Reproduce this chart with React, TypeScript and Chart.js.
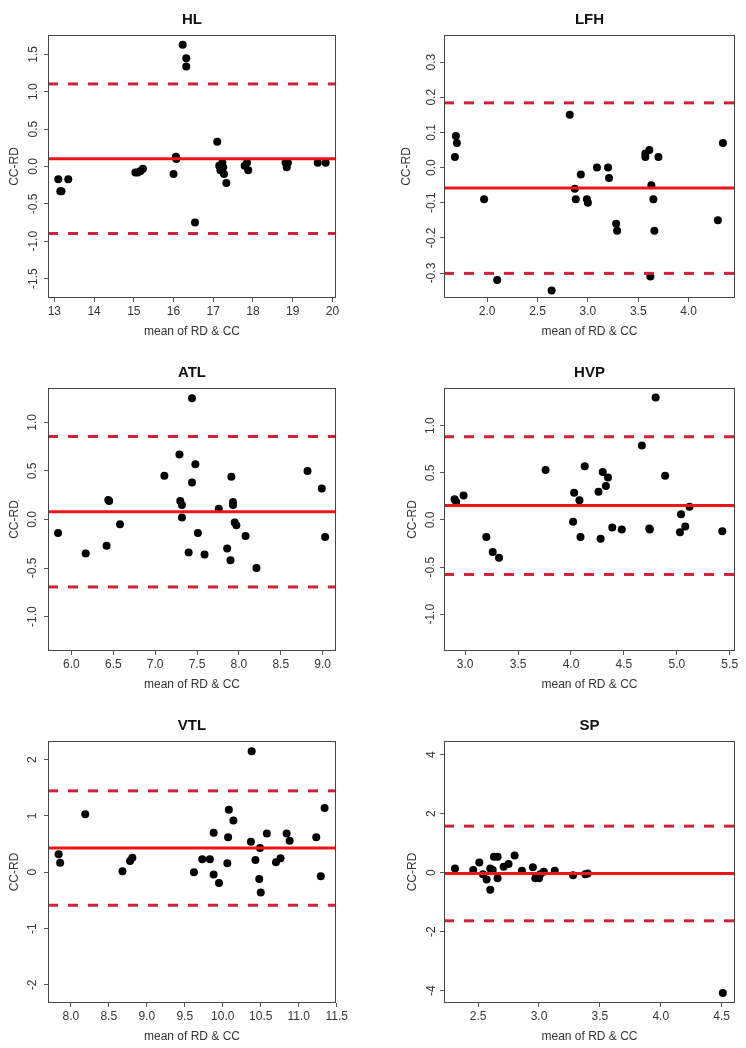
import React, { useEffect, useRef } from 'react';
import { Chart, registerables } from 'chart.js';
Chart.register(...registerables);

// ---------- data ----------
const panelTitles = ['HL', 'LFH', 'ATL', 'HVP', 'VTL', 'SP'];
const axisXTitle = 'mean of RD & CC';
const axisYTitle = 'CC-RD';

const hlX = [13.1, 13.15, 13.18, 13.35, 15.04, 15.1, 15.17, 15.23, 16.0, 16.06, 16.07, 16.23, 16.32, 16.32, 16.54, 17.1, 17.15, 17.18, 17.23, 17.25, 17.27, 17.33, 17.79, 17.85, 17.88, 18.82, 18.85, 18.88, 19.63, 19.83];
const hlY = [-0.17, -0.33, -0.33, -0.17, -0.08, -0.08, -0.06, -0.03, -0.1, 0.13, 0.1, 1.63, 1.45, 1.34, -0.75, 0.33, 0.01, -0.05, 0.05, -0.01, -0.1, -0.22, 0.01, 0.05, -0.05, 0.05, -0.01, 0.05, 0.05, 0.05];

const lfhX = [1.68, 1.69, 1.7, 1.97, 2.1, 2.64, 2.82, 2.87, 2.88, 2.93, 2.99, 3.0, 3.09, 3.2, 3.21, 3.28, 3.29, 3.57, 3.57, 3.61, 3.63, 3.62, 3.65, 3.66, 3.7, 4.29, 4.34];
const lfhY = [0.03, 0.09, 0.07, -0.09, -0.32, -0.35, 0.15, -0.06, -0.09, -0.02, -0.09, -0.1, 0.0, 0.0, -0.03, -0.16, -0.18, 0.04, 0.03, 0.05, -0.05, -0.31, -0.09, -0.18, 0.03, -0.15, 0.07];

const atlX = [5.84, 6.17, 6.42, 6.44, 6.45, 6.58, 7.11, 7.29, 7.3, 7.32, 7.32, 7.4, 7.44, 7.44, 7.48, 7.51, 7.59, 7.76, 7.86, 7.9, 7.91, 7.93, 7.93, 7.95, 7.97, 8.08, 8.21, 8.82, 8.99, 9.03];
const atlY = [-0.14, -0.35, -0.27, 0.2, 0.19, -0.05, 0.45, 0.67, 0.19, 0.15, 0.02, -0.34, 0.38, 1.25, 0.57, -0.14, -0.36, 0.11, -0.3, -0.42, 0.44, 0.18, 0.15, -0.03, -0.06, -0.17, -0.5, 0.5, 0.32, -0.18];

const hvpX = [2.9, 2.915, 2.985, 3.2, 3.26, 3.32, 3.76, 4.02, 4.03, 4.08, 4.09, 4.13, 4.26, 4.28, 4.3, 4.33, 4.35, 4.39, 4.48, 4.74, 4.745, 4.67, 4.8, 4.89, 5.03, 5.04, 5.08, 5.12, 5.43];
const hvpY = [0.22, 0.19, 0.26, -0.18, -0.34, -0.4, 0.53, -0.02, 0.29, 0.21, -0.18, 0.57, 0.3, -0.2, 0.51, 0.36, 0.45, -0.08, -0.1, -0.09, -0.1, 0.79, 1.3, 0.47, -0.13, 0.06, -0.07, 0.14, -0.12];

const vtlX = [7.84, 7.86, 8.19, 8.68, 8.78, 8.81, 9.62, 9.73, 9.83, 9.88, 9.88, 9.95, 10.06, 10.07, 10.08, 10.14, 10.37, 10.38, 10.43, 10.49, 10.48, 10.5, 10.58, 10.7, 10.76, 10.84, 10.88, 11.23, 11.29, 11.34];
const vtlY = [0.32, 0.17, 1.03, 0.02, 0.2, 0.26, 0.0, 0.23, 0.23, 0.7, -0.04, -0.19, 0.16, 0.62, 1.11, 0.92, 0.54, 2.15, 0.22, 0.43, -0.12, -0.36, 0.69, 0.18, 0.25, 0.69, 0.56, 0.62, -0.07, 1.14];

const spX = [2.31, 2.46, 2.51, 2.54, 2.57, 2.6, 2.6, 2.62, 2.63, 2.66, 2.66, 2.71, 2.75, 2.8, 2.86, 2.95, 2.97, 3.0, 3.01, 3.04, 3.13, 3.28, 3.38, 3.4, 4.51];
const spY = [0.14, 0.09, 0.34, -0.06, -0.23, 0.14, -0.58, 0.09, 0.54, 0.54, -0.19, 0.2, 0.29, 0.58, 0.06, 0.18, -0.19, -0.19, -0.06, 0.03, 0.06, -0.09, -0.06, -0.03, -4.08];

const seriesX = [hlX, lfhX, atlX, hvpX, vtlX, spX];
const seriesY = [hlY, lfhY, atlY, hvpY, vtlY, spY];

const meanDiff = [0.103, -0.058, 0.08, 0.153, 0.43, -0.03];
const upperLoA = [1.105, 0.184, 0.855, 0.883, 1.445, 1.575];
const lowerLoA = [-0.897, -0.301, -0.695, -0.578, -0.585, -1.635];

const xTickValues = [
  [13, 14, 15, 16, 17, 18, 19, 20],
  [2.0, 2.5, 3.0, 3.5, 4.0],
  [6.0, 6.5, 7.0, 7.5, 8.0, 8.5, 9.0],
  [3.0, 3.5, 4.0, 4.5, 5.0, 5.5],
  [8.0, 8.5, 9.0, 9.5, 10.0, 10.5, 11.0, 11.5],
  [2.5, 3.0, 3.5, 4.0, 4.5],
];
const yTickValues = [
  [-1.5, -1.0, -0.5, 0.0, 0.5, 1.0, 1.5],
  [-0.3, -0.2, -0.1, 0.0, 0.1, 0.2, 0.3],
  [-1.0, -0.5, 0.0, 0.5, 1.0],
  [-1.0, -0.5, 0.0, 0.5, 1.0],
  [-2, -1, 0, 1, 2],
  [-4, -2, 0, 2, 4],
];
const xTickDecimals = [0, 1, 1, 1, 1, 1];
const yTickDecimals = [1, 1, 1, 1, 0, 0];
const xLimits = [[12.84, 20.09], [1.572, 4.46], [5.72, 9.16], [2.8, 5.55], [7.7, 11.49], [2.22, 4.61]];
const yLimits = [[-1.76, 1.76], [-0.371, 0.377], [-1.355, 1.355], [-1.39, 1.4], [-2.32, 2.33], [-4.42, 4.46]];

// ---------- layout / style ----------
const COL_BOX = [[48, 336], [444, 735]];
const ROW_BOX = [[35, 298], [388, 651], [741, 1003]];
const LEFT_M = 48;
const TOP_M = 35;
const BOTTOM_M = 42;
const RIGHT_M = [30, 11];
const Y_TICK_PAD = [0, -1.6, 0.6, -1, 5.6, 3.3];
const Y_TITLE_PAD = [7.8, 3.1, 7.8, 9.1, 7.8, 9.1];
const FONT = "'Liberation Sans', Arial, Helvetica, sans-serif";

const boxPlugin = {
  id: 'rbox',
  afterDraw(chart: any) {
    const { ctx, chartArea: a } = chart;
    ctx.save();
    ctx.strokeStyle = '#444';
    ctx.lineWidth = 1;
    ctx.strokeRect(a.left + 0.5, a.top + 0.5, a.right - a.left - 1, a.bottom - a.top - 1);
    ctx.restore();
  },
};

function Panel({ idx }: { idx: number }) {
  const ref = useRef<HTMLCanvasElement | null>(null);
  const col = idx % 2;
  const row = Math.floor(idx / 2);
  const [bl, br] = COL_BOX[col];
  const [bt, bb] = ROW_BOX[row];
  const left = bl - LEFT_M;
  const top = bt - TOP_M;
  const width = br - bl + LEFT_M + RIGHT_M[col];
  const height = bb - bt + TOP_M + BOTTOM_M;

  useEffect(() => {
    if (!ref.current) return;
    const [xmin, xmax] = xLimits[idx];
    const [ymin, ymax] = yLimits[idx];
    const pts = seriesX[idx].map((x, i) => ({ x, y: seriesY[idx][i] }));
    const hline = (v: number) => [{ x: xmin, y: v }, { x: xmax, y: v }];
    const xs = xTickValues[idx];
    const ys = yTickValues[idx];
    const chart = new Chart(ref.current, {
      type: 'scatter',
      data: {
        datasets: [
          {
            data: hline(meanDiff[idx]),
            showLine: true,
            borderColor: '#f01414',
            borderWidth: 3,
            pointRadius: 0,
          },
          {
            data: hline(upperLoA[idx]),
            showLine: true,
            borderColor: '#d41f35',
            borderWidth: 3,
            borderDash: [10, 10],
            pointRadius: 0,
          },
          {
            data: hline(lowerLoA[idx]),
            showLine: true,
            borderColor: '#d41f35',
            borderWidth: 3,
            borderDash: [10, 10],
            pointRadius: 0,
          },
          {
            data: pts,
            pointRadius: 4,
            backgroundColor: '#000',
            borderWidth: 0,
          },
        ],
      } as any,
      options: {
        animation: false,
        responsive: false,
        events: [],
        layout: { padding: { left: 0, top: 0, bottom: 0, right: RIGHT_M[col] } },
        plugins: {
          legend: { display: false },
          tooltip: { enabled: false },
          title: {
            display: true,
            text: panelTitles[idx],
            fullSize: false,
            color: '#111',
            font: { family: FONT, size: 15, weight: 'bold' },
            padding: { top: 11, bottom: 6 },
          },
        },
        scales: {
          x: {
            type: 'linear',
            min: xmin,
            max: xmax,
            afterBuildTicks: (s: any) => {
              s.ticks = xs.map((v) => ({ value: v }));
            },
            afterFit: (s: any) => {
              s.height = BOTTOM_M;
              s.paddingLeft = 0;
              s.paddingRight = 0;
            },
            border: { display: false },
            grid: { display: true, drawOnChartArea: false, drawTicks: true, tickLength: 4, color: '#555', lineWidth: 1 },
            ticks: {
              autoSkip: false,
              maxRotation: 0,
              minRotation: 0,
              padding: 2,
              color: '#333',
              font: { family: FONT, size: 12 },
              callback: (v: any) => Number(v).toFixed(xTickDecimals[idx]),
            },
            title: {
              display: true,
              text: axisXTitle,
              color: '#333',
              font: { family: FONT, size: 12 },
              padding: { top: 0, bottom: 1 },
            },
          },
          y: {
            type: 'linear',
            min: ymin,
            max: ymax,
            afterBuildTicks: (s: any) => {
              s.ticks = ys.map((v) => ({ value: v }));
            },
            afterFit: (s: any) => {
              s.width = LEFT_M;
              s.paddingTop = 0;
              s.paddingBottom = 0;
            },
            border: { display: false },
            grid: { display: true, drawOnChartArea: false, drawTicks: true, tickLength: 4, color: '#555', lineWidth: 1 },
            ticks: {
              autoSkip: false,
              minRotation: 90,
              maxRotation: 90,
              crossAlign: 'center',
              padding: Y_TICK_PAD[idx],
              color: '#333',
              font: { family: FONT, size: 12 },
              callback: (v: any) => Number(v).toFixed(yTickDecimals[idx]),
            },
            title: {
              display: true,
              text: axisYTitle,
              color: '#333',
              font: { family: FONT, size: 12 },
              padding: { top: Y_TITLE_PAD[idx], bottom: 0 },
            },
          },
        },
      } as any,
      plugins: [boxPlugin],
    });
    return () => chart.destroy();
  }, [idx]);

  return (
    <canvas
      ref={ref}
      width={width}
      height={height}
      style={{ position: 'absolute', left, top, width, height }}
    />
  );
}

export default function App() {
  return (
    <div style={{ position: 'absolute', left: 0, top: 0, width: 746, height: 1048, background: '#fff' }}>
      {panelTitles.map((_, i) => (
        <Panel key={i} idx={i} />
      ))}
    </div>
  );
}
